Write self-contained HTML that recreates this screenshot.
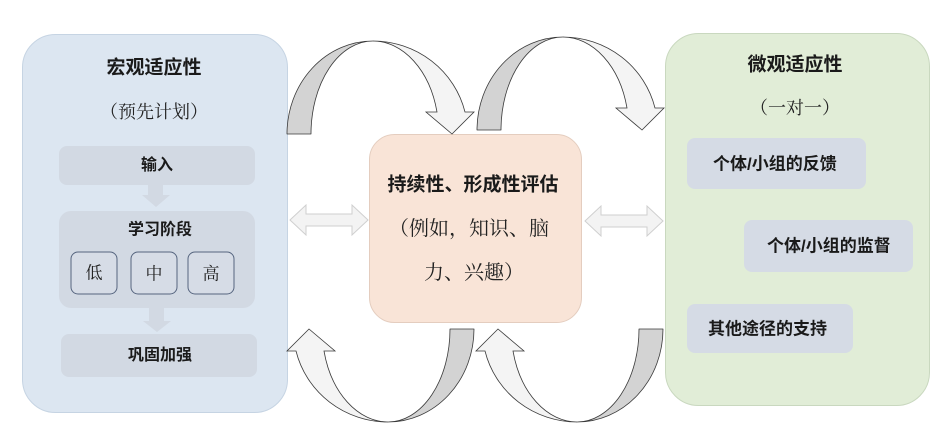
<!DOCTYPE html>
<html><head><meta charset="utf-8"><style>
html,body{margin:0;padding:0;background:#fff;}
svg{display:block;}
.b{font-family:"Liberation Sans","Noto Sans CJK SC",sans-serif;font-weight:bold;fill:#1a1a1a;}
.s{font-family:"Liberation Serif","Noto Serif CJK SC",serif;fill:#222;}
</style></head><body>
<svg width="951" height="444" viewBox="0 0 951 444" xmlns="http://www.w3.org/2000/svg">
<rect x="0" y="0" width="951" height="444" fill="#fff"/>
<!-- left panel -->
<rect x="22.5" y="34.5" width="265" height="378" rx="33" fill="#dce6f1" stroke="#c6d4e3"/>
<text class="b" x="154" y="68" font-size="19" text-anchor="middle" dominant-baseline="central">宏观适应性</text>
<text class="s" x="154" y="112" font-size="18" text-anchor="middle" dominant-baseline="central">（预先计划）</text>
<rect x="59" y="146" width="196" height="39" rx="8" fill="#d2d9e3"/>
<text class="b" x="157" y="165.5" font-size="16" text-anchor="middle" dominant-baseline="central">输入</text>
<polygon points="148,185 163,185 163,195 170,195 156,207 142,195 148,195" fill="#d2d9e3"/>
<rect x="59" y="211" width="196" height="97" rx="12" fill="#d2d9e3"/>
<text class="b" x="160" y="230" font-size="16" text-anchor="middle" dominant-baseline="central">学习阶段</text>
<rect x="71" y="252" width="46" height="42" rx="7" fill="#d6dce6" stroke="#56657f"/>
<rect x="131" y="252" width="46" height="42" rx="7" fill="#d6dce6" stroke="#56657f"/>
<rect x="188" y="252" width="46" height="42" rx="7" fill="#d6dce6" stroke="#56657f"/>
<text class="s" x="94" y="273" font-size="17" text-anchor="middle" dominant-baseline="central">低</text>
<text class="s" x="154" y="274" font-size="17" text-anchor="middle" dominant-baseline="central">中</text>
<text class="s" x="211" y="274" font-size="17" text-anchor="middle" dominant-baseline="central">高</text>
<polygon points="149,308 164,308 164,321 171,321 157,332 143,321 149,321" fill="#d2d9e3"/>
<rect x="61" y="334" width="196" height="43" rx="8" fill="#d2d9e3"/>
<text class="b" x="160" y="355.5" font-size="16" text-anchor="middle" dominant-baseline="central">巩固加强</text>

<!-- right panel -->
<rect x="665.5" y="33.5" width="264" height="372" rx="33" fill="#e1edd7" stroke="#c9d8bf"/>
<text class="b" x="795" y="65" font-size="19" text-anchor="middle" dominant-baseline="central">微观适应性</text>
<text class="s" x="795" y="108" font-size="18" text-anchor="middle" dominant-baseline="central">（一对一）</text>
<rect x="687" y="138" width="179" height="51" rx="8" fill="#d5dbe5"/>
<text class="b" x="713" y="164" font-size="17" dominant-baseline="central">个体/小组的反馈</text>
<rect x="744" y="220" width="169" height="52" rx="8" fill="#d5dbe5"/>
<text class="b" x="767" y="246" font-size="17" dominant-baseline="central">个体/小组的监督</text>
<rect x="687" y="304" width="166" height="49" rx="8" fill="#d5dbe5"/>
<text class="b" x="708" y="329" font-size="17" dominant-baseline="central">其他途径的支持</text>

<!-- center box -->
<rect x="369.5" y="134.5" width="212" height="188" rx="25" fill="#f9e4d7" stroke="#e4cdbf"/>
<text class="b" x="473" y="185" font-size="19" text-anchor="middle" dominant-baseline="central">持续性、形成性评估</text>
<text class="s" x="389" y="229" font-size="20" dominant-baseline="central">（例如，知识、脑</text>
<text class="s" x="424" y="273" font-size="20" dominant-baseline="central">力、兴趣）</text>

<!-- double arrows -->
<polygon points="290,220 306,205 306,214 352,214 352,205 368,220 352,235 352,226 306,226 306,235" fill="#f3f3f3" stroke="#cfcfcf"/>
<polygon points="585,221 601,206 601,215 647,215 647,206 663,221 647,236 647,227 601,227 601,236" fill="#f3f3f3" stroke="#cfcfcf"/>

<!-- curved arrows -->
<defs>
<g id="ca">
<path d="M287 134 A86 93 0 0 1 373 41 A62 93 0 0 0 311 134 Z" fill="#d3d3d3" stroke="#3a3a3a" stroke-width="0.8" stroke-linejoin="round"/>
<path d="M373 41 A95 93 0 0 1 465 112 L474 112 L452 134 L426 112 L437 112 A66 93 0 0 0 373 41 Z" fill="#f4f4f4" stroke="#3a3a3a" stroke-width="0.8" stroke-linejoin="miter"/>
</g>
</defs>
<use href="#ca"/>
<use href="#ca" transform="translate(190,-4)"/>
<use href="#ca" transform="rotate(180 380.5 231.5)"/>
<use href="#ca" transform="translate(189,0) rotate(180 380.5 231.5)"/>
</svg>
</body></html>
